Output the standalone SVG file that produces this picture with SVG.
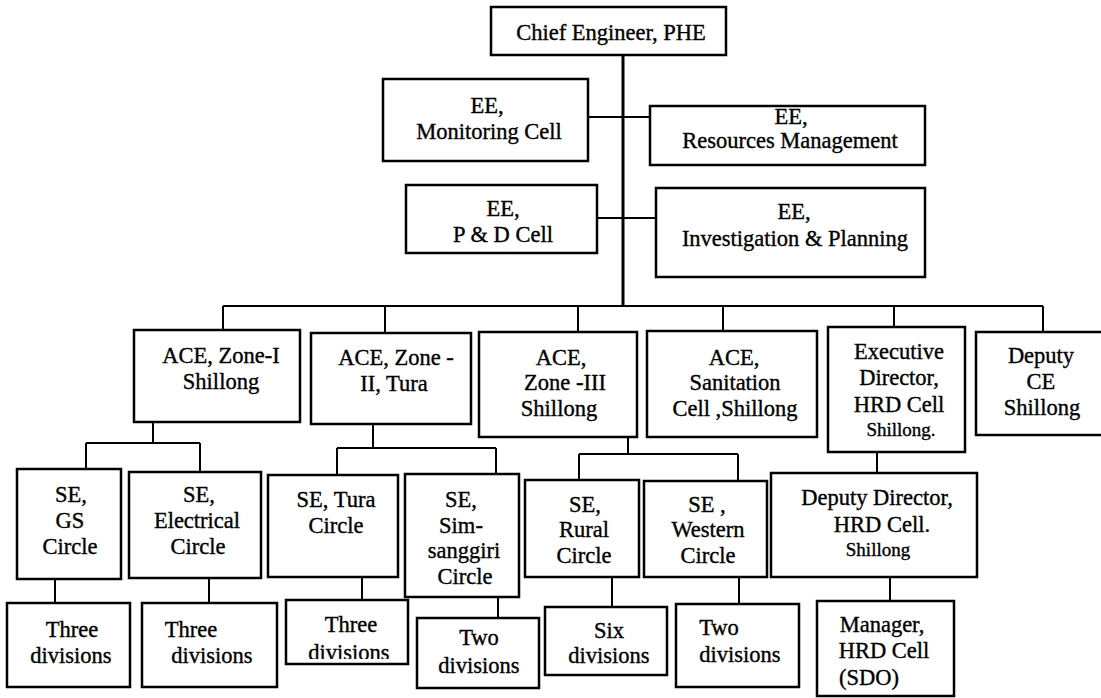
<svg xmlns="http://www.w3.org/2000/svg" width="1101" height="698" viewBox="0 0 1101 698" font-family="Liberation Serif, Times New Roman, DejaVu Serif, serif">
  <style>
    .box { fill: none; stroke: #000; stroke-width: 2.5; }
    .wire { fill: none; stroke: #000; stroke-width: 2; }
    .trunk { fill: none; stroke: #000; stroke-width: 3; }
    .lbl text { font-family: 'Liberation Serif', 'Times New Roman', 'DejaVu Serif', serif; font-size: 22.5px; fill: #000; stroke: #000; stroke-width: 0.35; text-anchor: middle; }
    .lbl text.sm { font-size: 19px; }
  </style>
  <defs>
    <!-- lower half of the second line is hidden by the box edge -->
    <clipPath id="clipTura3">
      <rect x="286" y="600" width="122" height="59"/>
    </clipPath>
  </defs>
  <rect width="1101" height="698" fill="#fff"/>

  <!-- connectors -->
  <g id="connectors">
    <path class="trunk" d="M623 55V306"/>
    <path class="wire" d="M588 117H650M597 218H656"/>
    <!-- main bus to ACE level -->
    <path class="wire" d="M223 306H1043M223 306V330M385 306V333M578 306V332M723 306V331M894 306V327M1043 306V332"/>
    <!-- Zone-I -->
    <path class="wire" d="M153 422V443M86 443H200M86 443V469M200 443V472"/>
    <!-- Zone-II -->
    <path class="wire" d="M373 424V448M337 448H496M337 448V475M496 448V474"/>
    <!-- Zone-III -->
    <path class="wire" d="M628 437V454M579 454H738M579 454V480M738 454V481"/>
    <!-- HRD -->
    <path class="wire" d="M877 452V473"/>
    <!-- circles to divisions -->
    <path class="wire" d="M55 579V603M209 578V603M362 577V600M498 597V618M612 577V607M739 577V604M890 577V601"/>
  </g>

  <g class="lbl">
  <g id="chief">
    <rect class="box" x="491" y="7" width="235" height="48"/>
    <text x="611" y="40">Chief Engineer, PHE</text>
  </g>
  <g id="ee-monitoring">
    <rect class="box" x="383" y="79" width="205" height="82"/>
    <text x="487" y="113">EE,</text>
    <text x="489" y="139">Monitoring Cell</text>
  </g>
  <g id="ee-resources">
    <rect class="box" x="650" y="106" width="275" height="59"/>
    <text x="791" y="124">EE,</text>
    <text x="790" y="148">Resources Management</text>
  </g>
  <g id="ee-pd">
    <rect class="box" x="406" y="185" width="191" height="68"/>
    <text x="503" y="216">EE,</text>
    <text x="503" y="242">P &amp; D Cell</text>
  </g>
  <g id="ee-investigation">
    <rect class="box" x="656" y="188" width="269" height="89"/>
    <text x="794" y="219">EE,</text>
    <text x="795" y="246">Investigation &amp; Planning</text>
  </g>

  <g id="ace-zone1">
    <rect class="box" x="134" y="330" width="166" height="92"/>
    <text x="221" y="363">ACE, Zone-I</text>
    <text x="221" y="389">Shillong</text>
  </g>
  <g id="ace-zone2">
    <rect class="box" x="311" y="333" width="160" height="91"/>
    <text x="396" y="365">ACE, Zone -</text>
    <text x="394" y="391">II, Tura</text>
  </g>
  <g id="ace-zone3">
    <rect class="box" x="479" y="332" width="158" height="105"/>
    <text x="561" y="365">ACE,</text>
    <text x="565" y="390">Zone -III</text>
    <text x="559" y="416">Shillong</text>
  </g>
  <g id="ace-sanitation">
    <rect class="box" x="647" y="331" width="170" height="106"/>
    <text x="734" y="365">ACE,</text>
    <text x="735" y="390">Sanitation</text>
    <text x="735" y="416">Cell ,Shillong</text>
  </g>
  <g id="exec-director">
    <rect class="box" x="828" y="327" width="137" height="125"/>
    <text x="899" y="359">Executive</text>
    <text x="899" y="385">Director,</text>
    <text x="899" y="412">HRD Cell</text>
    <text class="sm" x="901" y="436">Shillong.</text>
  </g>
  <g id="deputy-ce">
    <rect class="box" x="976" y="332" width="130" height="103"/>
    <text x="1041" y="363">Deputy</text>
    <text x="1041" y="389">CE</text>
    <text x="1042" y="415">Shillong</text>
  </g>

  <g id="se-gs">
    <rect class="box" x="17" y="469" width="104" height="110"/>
    <text x="71" y="502">SE,</text>
    <text x="70" y="528">GS</text>
    <text x="70" y="554">Circle</text>
  </g>
  <g id="se-electrical">
    <rect class="box" x="129" y="472" width="132" height="106"/>
    <text x="199" y="502">SE,</text>
    <text x="197" y="528">Electrical</text>
    <text x="198" y="554">Circle</text>
  </g>
  <g id="se-tura">
    <rect class="box" x="268" y="475" width="130" height="102"/>
    <text x="336" y="507">SE, Tura</text>
    <text x="336" y="533">Circle</text>
  </g>
  <g id="se-simsanggiri">
    <rect class="box" x="405" y="474" width="114" height="123"/>
    <text x="461" y="507">SE,</text>
    <text x="461" y="533">Sim-</text>
    <text x="464" y="558">sanggiri</text>
    <text x="465" y="584">Circle</text>
  </g>
  <g id="se-rural">
    <rect class="box" x="525" y="480" width="114" height="97"/>
    <text x="585" y="512">SE,</text>
    <text x="584" y="537">Rural</text>
    <text x="584" y="563">Circle</text>
  </g>
  <g id="se-western">
    <rect class="box" x="644" y="481" width="123" height="96"/>
    <text x="707" y="512">SE ,</text>
    <text x="708" y="537">Western</text>
    <text x="708" y="563">Circle</text>
  </g>
  <g id="deputy-director">
    <rect class="box" x="771" y="473" width="206" height="104"/>
    <text x="877" y="505">Deputy Director,</text>
    <text x="882" y="532">HRD Cell.</text>
    <text class="sm" x="878" y="556">Shillong</text>
  </g>

  <g id="div-gs">
    <rect class="box" x="7" y="603" width="123" height="84"/>
    <text x="72" y="637">Three</text>
    <text x="71" y="663">divisions</text>
  </g>
  <g id="div-electrical">
    <rect class="box" x="142" y="603" width="135" height="84"/>
    <text x="191" y="637">Three</text>
    <text x="212" y="663">divisions</text>
  </g>
  <g id="div-tura">
    <rect class="box" x="286" y="600" width="122" height="64"/>
    <text x="351" y="632">Three</text>
    <text x="349" y="660" clip-path="url(#clipTura3)">divisions</text>
  </g>
  <g id="div-simsanggiri">
    <rect class="box" x="417" y="618" width="122" height="70"/>
    <text x="479" y="645">Two</text>
    <text x="479" y="673">divisions</text>
  </g>
  <g id="div-rural">
    <rect class="box" x="545" y="607" width="122" height="68"/>
    <text x="609" y="638">Six</text>
    <text x="609" y="663">divisions</text>
  </g>
  <g id="div-western">
    <rect class="box" x="676" y="604" width="123" height="83"/>
    <text x="719" y="635">Two</text>
    <text x="740" y="662">divisions</text>
  </g>
  <g id="manager-hrd">
    <rect class="box" x="817" y="601" width="137" height="95"/>
    <text x="882" y="632">Manager,</text>
    <text x="884" y="658">HRD Cell</text>
    <text x="869" y="685">(SDO)</text>
  </g>
  </g>
</svg>
